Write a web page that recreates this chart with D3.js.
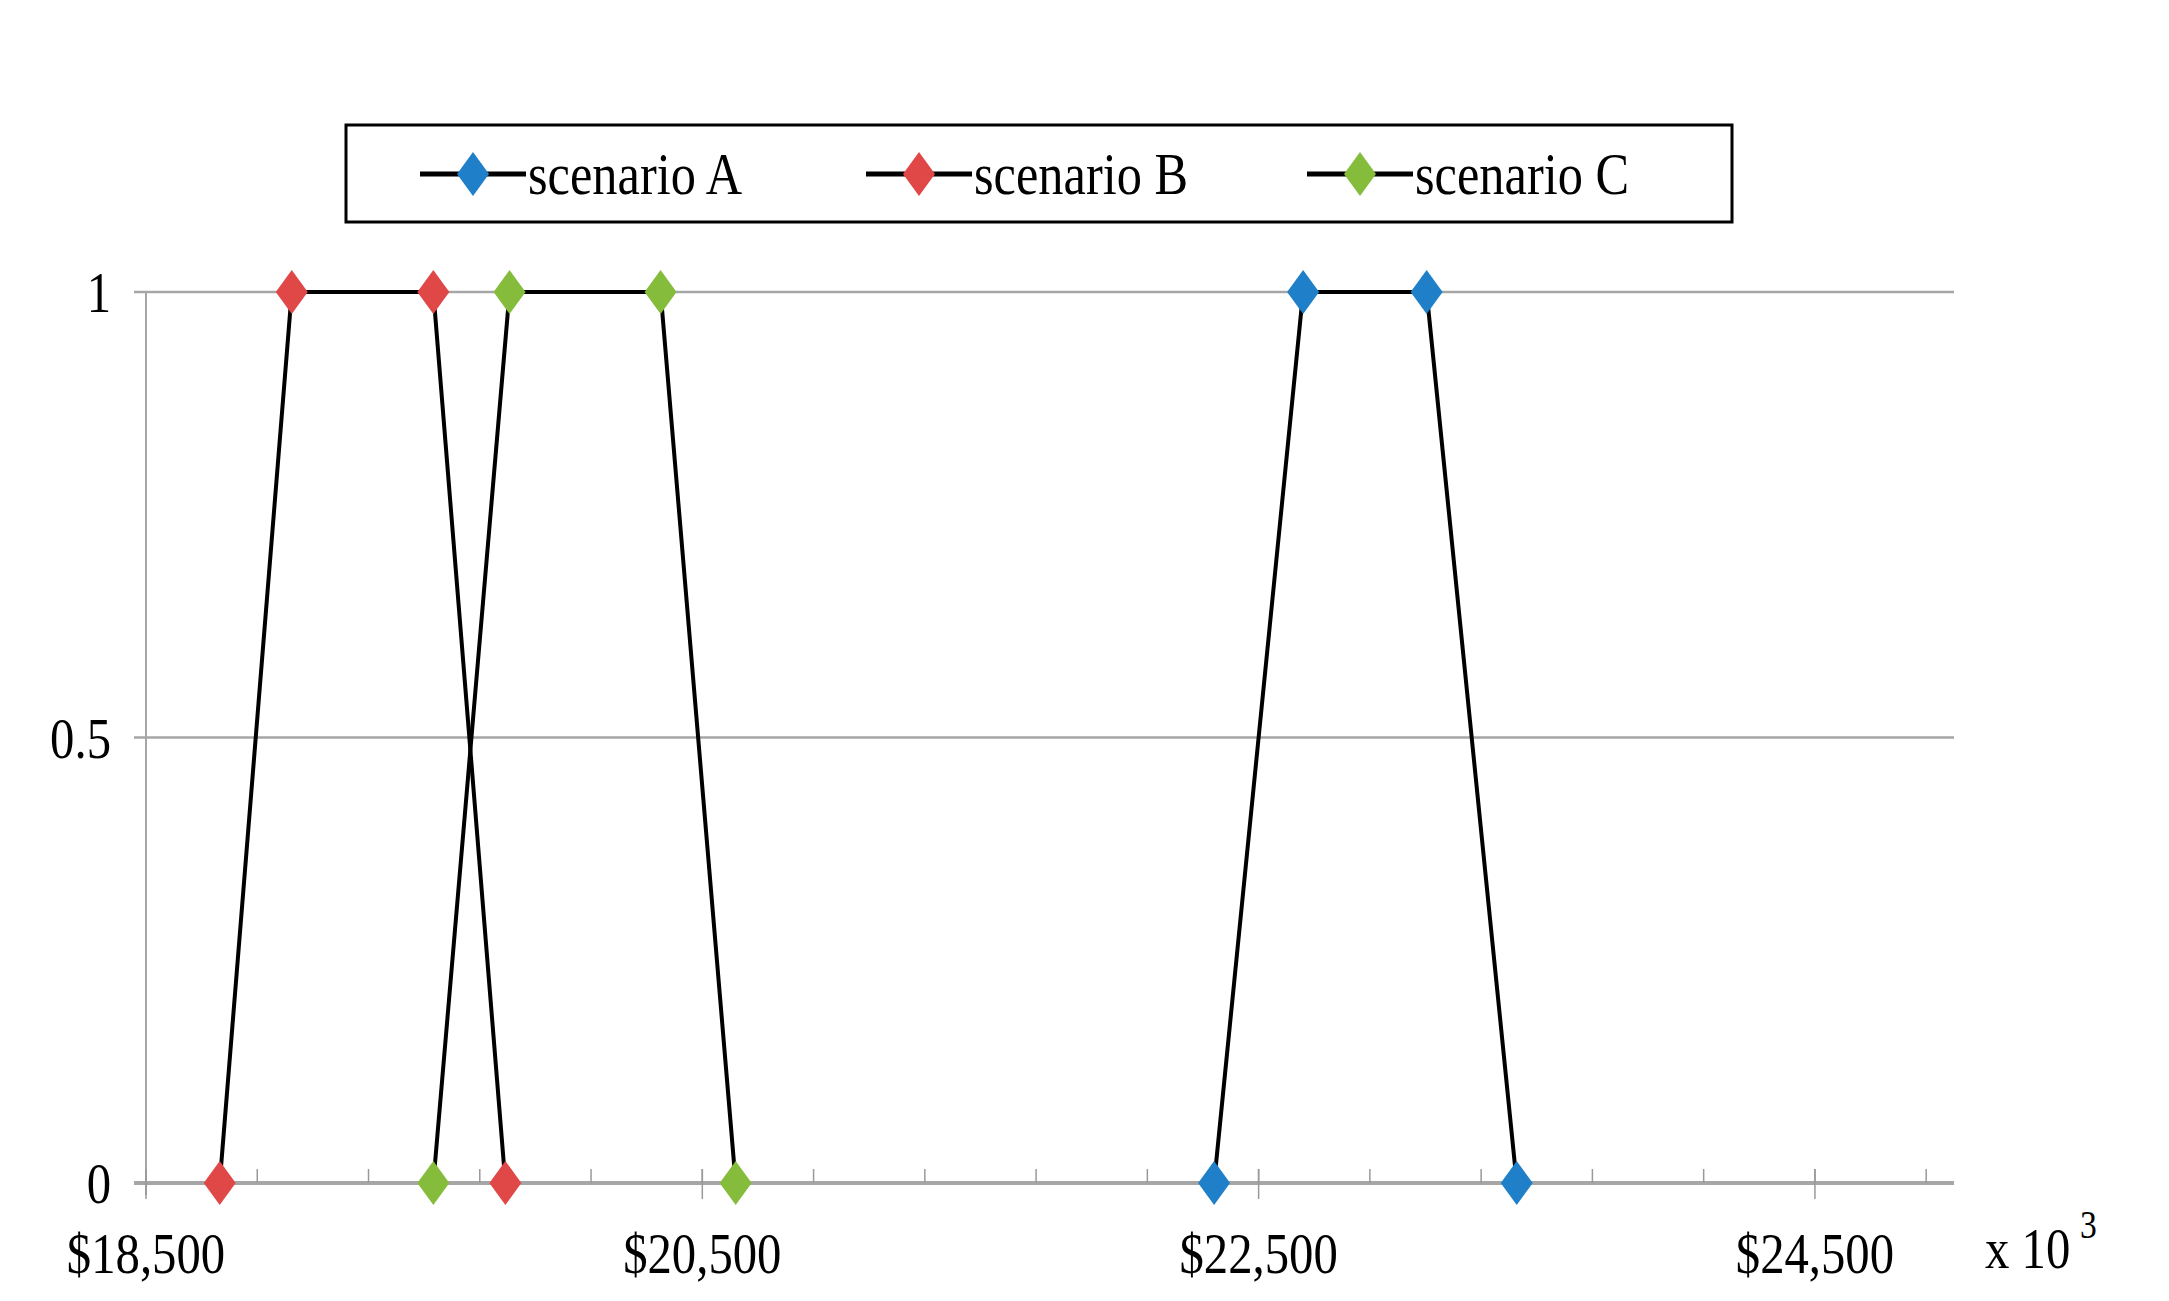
<!DOCTYPE html>
<html><head><meta charset="utf-8">
<script src="https://cdn.jsdelivr.net/npm/d3@7"></script>
<style>body{margin:0;background:#fff}</style></head>
<body><svg id="c" width="2169" height="1301"></svg>
<script>
const seriesNames = ["scenario A","scenario B","scenario C"];
const seriesColors = ["#1f7fc8","#e04848","#86bc3c"];
const seriesX = [
  [22340,22660,23104,23428],
  [18765,19024,19533,19792],
  [19533,19807,20350,20620]
];
const seriesY = [0,1,1,0];
const xTicks = [18500,20500,22500,24500];
const yTicks = [0,0.5,1];

const svg = d3.select("#c");
const L=146,R=1954,T=292,B=1183;
const x = d3.scaleLinear().domain([18500,25000]).range([L,R]);
const y = d3.scaleLinear().domain([0,1]).range([B,T]);
const font = "'Liberation Serif','Times New Roman',serif";
const SX=0.84;
// condensed text helper
function ctext(px,py,str,size,anchor){
  const g=svg.append("g").attr("transform",`translate(${px},${py}) scale(${SX},1)`);
  g.append("text").attr("text-anchor",anchor||"start").attr("font-family",font).attr("font-size",size).text(str);
}

svg.append("g").selectAll("line").data(yTicks).join("line")
 .attr("x1",L-12).attr("x2",R).attr("y1",d=>y(d)).attr("y2",d=>y(d))
 .attr("stroke","#a6a6a6").attr("stroke-width",d=>d===0?4:2.5);
svg.append("line").attr("x1",L).attr("x2",L).attr("y1",T).attr("y2",B+12).attr("stroke","#a6a6a6").attr("stroke-width",2);
const minor = d3.range(18900,25001,400);
svg.append("g").selectAll("line").data(minor).join("line")
 .attr("x1",d=>x(d)).attr("x2",d=>x(d)).attr("y1",B-14).attr("y2",B)
 .attr("stroke","#999").attr("stroke-width",1.5);
svg.append("g").selectAll("line").data(xTicks).join("line")
 .attr("x1",d=>x(d)).attr("x2",d=>x(d)).attr("y1",B-14).attr("y2",B+16)
 .attr("stroke","#999").attr("stroke-width",1.5);
xTicks.forEach(d=>ctext(x(d),B+90,"$"+d3.format(",")(d),58,"middle"));
ctext(1985,B+85,"x 10",58);
ctext(2080,B+55,"3",40);
yTicks.forEach(d=>ctext(L-35,y(d)+20,String(d),58,"end"));

const line = d3.line().x(d=>x(d[0])).y(d=>y(d[1]));
const diamond = (cx,cy,w,h)=>`M${cx},${cy-h}L${cx+w},${cy}L${cx},${cy+h}L${cx-w},${cy}Z`;
seriesX.forEach((xs,i)=>{
  const pts = xs.map((v,j)=>[v,seriesY[j]]);
  svg.append("path").attr("d",line(pts)).attr("fill","none").attr("stroke","#000").attr("stroke-width",4);
  svg.append("g").selectAll("path").data(pts).join("path")
   .attr("d",d=>diamond(x(d[0]),y(d[1]),16,22)).attr("fill",seriesColors[i]);
});

svg.append("rect").attr("x",346).attr("y",125).attr("width",1386).attr("height",97)
 .attr("fill","#fff").attr("stroke","#000").attr("stroke-width",3);
const lx=[420,866,1307];
seriesNames.forEach((n,i)=>{
  svg.append("line").attr("x1",lx[i]).attr("x2",lx[i]+106).attr("y1",174).attr("y2",174).attr("stroke","#000").attr("stroke-width",5);
  svg.append("path").attr("d",diamond(lx[i]+53,174,16,22)).attr("fill",seriesColors[i]);
  ctext(lx[i]+108,194,n,60);
});
</script></body></html>
